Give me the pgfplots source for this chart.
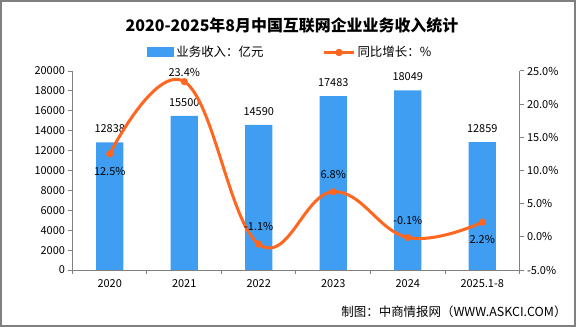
\documentclass[border=0pt]{standalone}
\usepackage{fontspec}
\setmainfont{Noto Sans CJK SC}
\usepackage{pgfplots}
\pgfplotsset{compat=1.18}
\definecolor{barblue}{RGB}{64,158,242}
\definecolor{lineorange}{RGB}{255,102,31}
\definecolor{axgray}{RGB}{128,128,128}
\begin{document}
\begin{tikzpicture}
\path[use as bounding box] (-72.5bp,270bp) rectangle (512.5bp,-57bp);
\draw[axgray,line width=2bp] (-71.5bp,269bp) rectangle (502.5bp,-56bp);
\node[font=\fontsize{16}{16}\selectfont\bfseries] at (219.5bp,245bp) {2020-2025年8月中国互联网企业业务收入统计};
\node[anchor=east,font=\fontsize{12.5}{12.5}\selectfont] at (497.5bp,-42bp) {制图：中商情报网（WWW.ASKCI.COM）};
\pgfplotsset{every axis/.append style={scale only axis, width=447bp, height=199bp,
  xmin=-0.5, xmax=5.5,
  axis line style={axgray,line width=1bp,-}, tick style={axgray,line width=1bp},
  tick align=outside, major tick length=4bp,
  tick label style={font=\fontsize{11}{11}\selectfont, black},
  scaled y ticks=false,
  /pgf/number format/assume math mode=true}}
\begin{axis}[
  axis x line*=bottom, axis y line*=left,
  ymin=0, ymax=20000, ytick={0,2000,...,20000},
  yticklabel={\pgfmathprintnumber[fixed,1000 sep={}]{\tick}},
  xtick={-0.5,0.5,...,5.5}, xticklabels={},
  extra x ticks={0,1,2,3,4,5},
  extra x tick labels={2020,2021,2022,2023,2024,2025.1-8},
  extra x tick style={major tick length=0pt, tick label style={yshift=-6bp}},
  legend columns=2,
  legend style={at={(0.167,1.093)}, anchor=west, draw=none, fill=none,
    font=\fontsize{12.5}{12.5}\selectfont, inner sep=0pt,
    /tikz/every even column/.append style={column sep=57bp}},
  legend cell align=left,
]
\addplot[ybar, bar width=27.3bp, fill=barblue, draw=none,
  legend image code/.code={\fill[barblue] (0bp,-5bp) rectangle (27bp,5bp);}]
  coordinates {(0,12838) (1,15500) (2,14590) (3,17483) (4,18049) (5,12859)};
\addlegendentry{业务收入：亿元}
\addlegendimage{legend image code/.code={\draw[lineorange,line width=3bp] (0bp,0bp)--(30bp,0bp); \fill[lineorange] (15bp,0bp) circle (3.5bp);}}
\addlegendentry{同比增长：\%}
\addplot[forget plot, draw=none, mark=none, nodes near coords, point meta=explicit symbolic,
  nodes near coords style={anchor=center, yshift=13.5bp, black, font=\fontsize{11}{11}\selectfont}]
  coordinates {(0,12838)[12838] (1,15500)[15500] (2,14590)[14590] (3,17483)[17483] (4,18049)[18049] (5,12859)[12859]};
\end{axis}
\begin{axis}[
  axis x line=none, axis y line*=right,
  ymin=-5, ymax=25, ytick={-5,0,...,25},
  yticklabel={\pgfmathprintnumber[fixed,fixed zerofill,precision=1]{\tick}\%},
]
\addplot[smooth, tension=0.7, lineorange, line width=3bp, mark=*, mark size=3.5bp,
  mark options={fill=lineorange, draw=lineorange, line width=0.1bp}]
  coordinates {(0,12.5) (1,23.4) (2,-1.1) (3,6.8) (4,-0.1) (5,2.2)};
\addplot[draw=none, mark=none, nodes near coords, point meta=explicit symbolic,
  nodes near coords style={anchor=center, yshift=17.5bp, black, font=\fontsize{11}{11}\selectfont}]
  coordinates {(2,-1.1)[-1.1\%] (3,6.8)[6.8\%] (4,-0.1)[-0.1\%]};
\addplot[draw=none, mark=none, nodes near coords, point meta=explicit symbolic,
  nodes near coords style={anchor=center, yshift=9.5bp, black, font=\fontsize{11}{11}\selectfont}]
  coordinates {(1,23.4)[23.4\%]};
\addplot[draw=none, mark=none, nodes near coords, point meta=explicit symbolic,
  nodes near coords style={anchor=center, yshift=-17.5bp, black, font=\fontsize{11}{11}\selectfont}]
  coordinates {(0,12.5)[12.5\%] (5,2.2)[2.2\%]};
\end{axis}
\end{tikzpicture}
\end{document}
